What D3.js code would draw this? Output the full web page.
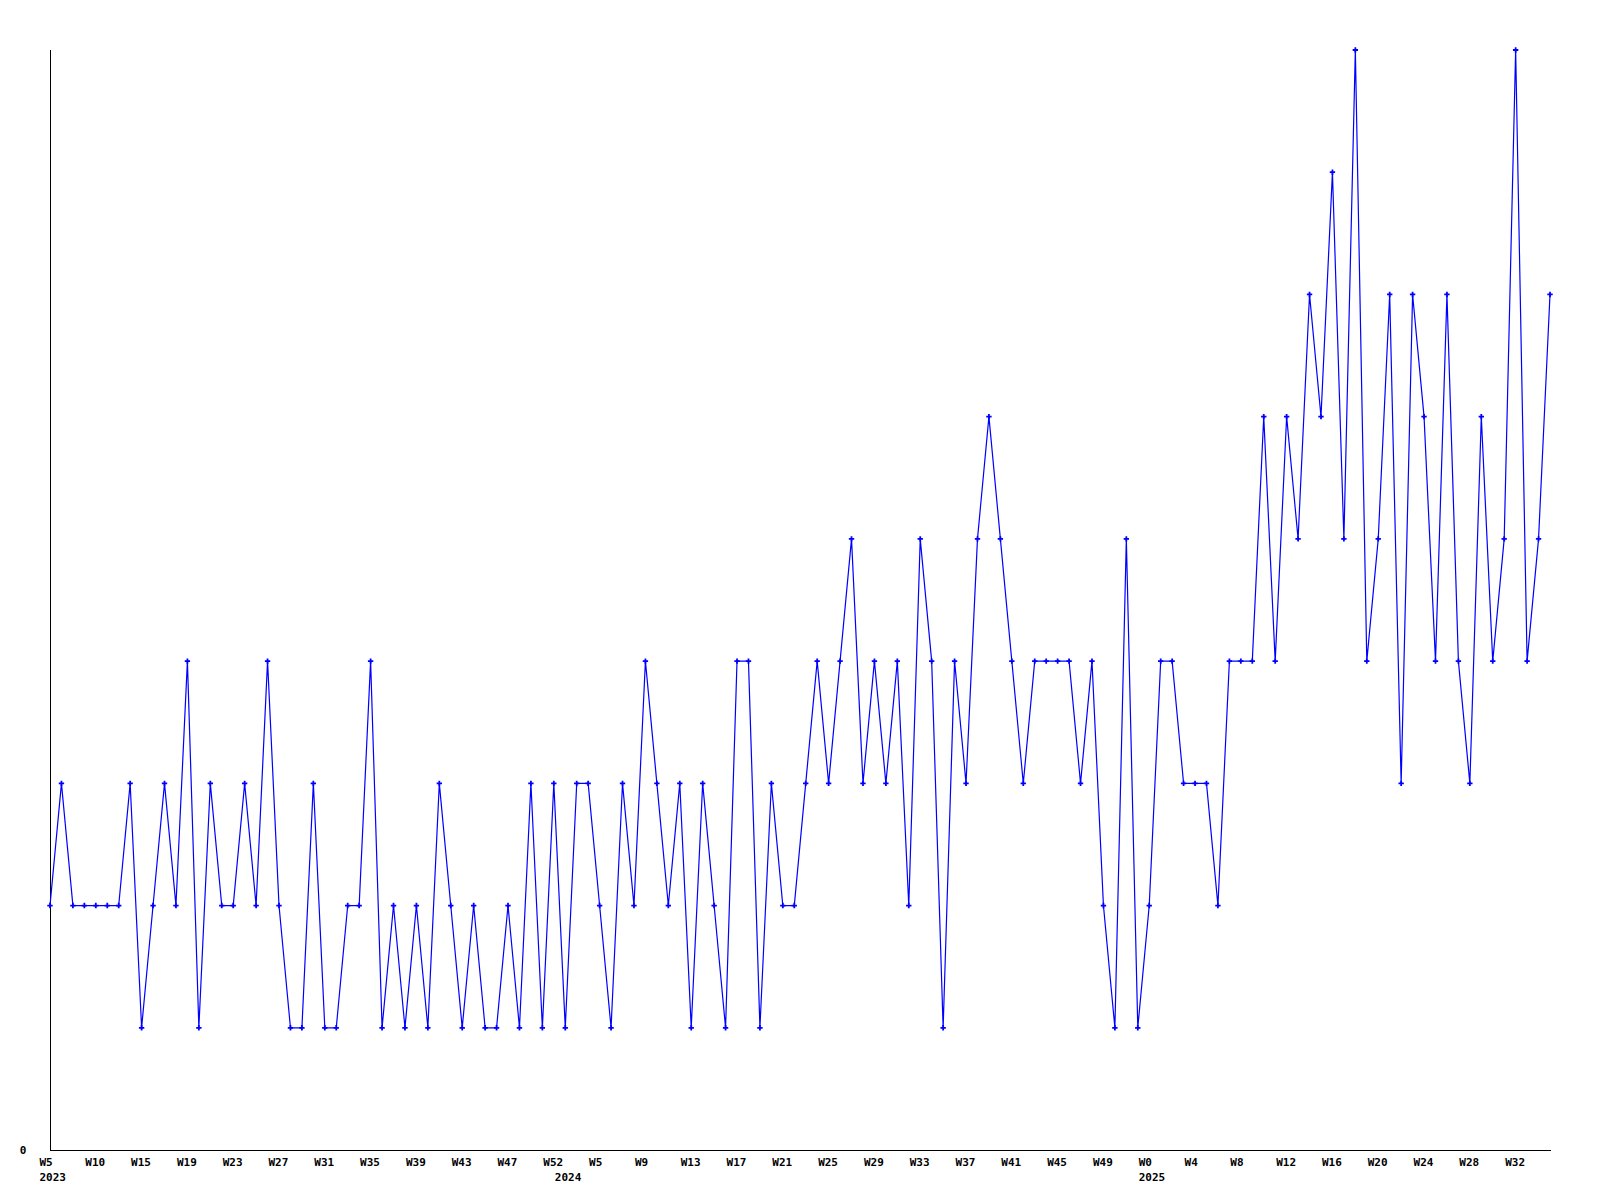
<!DOCTYPE html>
<html>
<head>
<meta charset="utf-8">
<script src="https://cdn.jsdelivr.net/npm/d3@7"></script>
<style>
  html, body { margin: 0; padding: 0; background: #fff; }
  svg text { font-family: "DejaVu Sans Mono", monospace; font-weight: bold; font-size: 11px; fill: #000; }
</style>
</head>
<body>
<svg id="chart" width="1600" height="1200"></svg>
<script>
// Weekly counts, one value per point (index order)
const values = [
  2,3,2,2,2,2,2,3,1,2, 3,2,4,1,3,2,2,3,2,4,
  2,1,1,3,1,1,2,2,4,1, 2,1,2,1,3,2,1,2,1,1,
  2,1,3,1,3,1,3,3,2,1, 3,2,4,3,2,3,1,3,2,1,
  4,4,1,3,2,2,3,4,3,4, 5,3,4,3,4,2,5,4,1,4,
  3,5,6,5,4,3,4,4,4,4, 3,4,2,1,5,1,2,4,4,3,
  3,3,2,4,4,4,6,4,6,5, 7,6,8,5,9,4,5,7,3,7,
  6,4,7,4,3,6,4,5,9,4, 5,7
];
// Tick labels, one every 4 points
const tickLabels = ["W5","W10","W15","W19","W23","W27","W31","W35","W39","W43","W47","W52",
  "W5","W9","W13","W17","W21","W25","W29","W33","W37","W41","W45","W49",
  "W0","W4","W8","W12","W16","W20","W24","W28","W32"];
const tickStep = 4;
// Year labels and the point index where each year starts
const yearLabels = ["2023","2024","2025"];
const yearIndex = [0, 45, 96];
const yMax = 9;

const svg = d3.select("#chart");
const x = d3.scaleLinear().domain([0, values.length - 1]).range([50, 1550]);
const y = d3.scaleLinear().domain([0, yMax]).range([1150, 50]);

// axes lines
svg.append("line").attr("x1", 50.5).attr("x2", 50.5).attr("y1", 50).attr("y2", 1150.5)
  .attr("stroke", "#000").attr("stroke-width", 1);
svg.append("line").attr("x1", 50).attr("x2", 1551).attr("y1", 1150.5).attr("y2", 1150.5)
  .attr("stroke", "#000").attr("stroke-width", 1);

// y label
svg.append("text").attr("x", 23).attr("y", 1154).attr("text-anchor", "middle").text("0");

// x tick labels (left-aligned just before each tick)
const tickIdx = tickLabels.map((d, i) => i * tickStep);
svg.append("g").selectAll("text").data(tickLabels).join("text")
  .attr("x", (d, i) => x(tickIdx[i]) - 10.5)
  .attr("y", 1166)
  .attr("text-anchor", "start")
  .text(d => d);

// year labels
svg.append("g").selectAll("text").data(yearLabels).join("text")
  .attr("x", (d, i) => x(yearIndex[i]) - 10.5)
  .attr("y", 1181)
  .attr("text-anchor", "start")
  .text(d => d);

// line
const line = d3.line().x((d, i) => x(i)).y(d => y(d));
svg.append("path").datum(values)
  .attr("d", line)
  .attr("fill", "none")
  .attr("stroke", "#0000ff")
  .attr("stroke-width", 1.2);

// markers (small crosses)
const sym = d3.symbol().type(d3.symbolCross).size(16);
svg.append("g").selectAll("path").data(values).join("path")
  .attr("transform", (d, i) => `translate(${x(i)},${y(d)})`)
  .attr("d", sym)
  .attr("fill", "#0000ff");
</script>
</body>
</html>
